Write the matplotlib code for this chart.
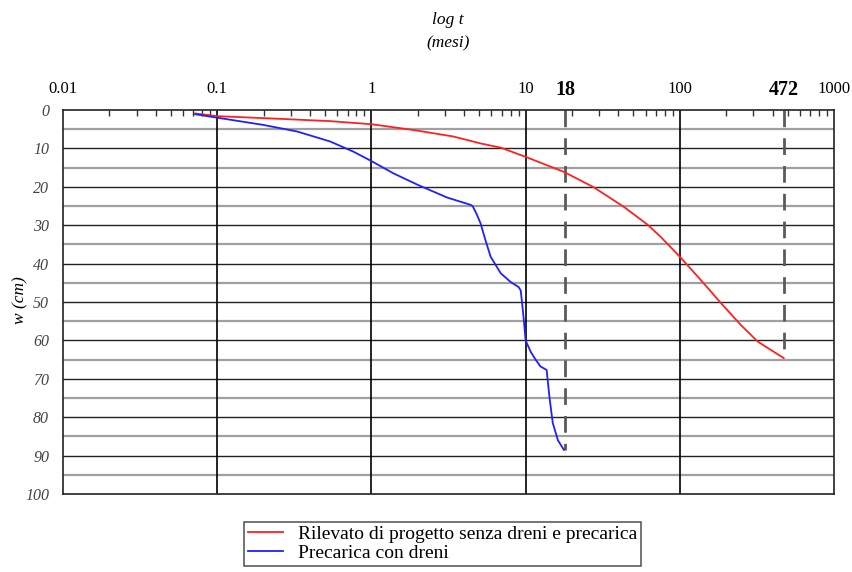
import numpy as np
import matplotlib.pyplot as plt
from matplotlib.ticker import FixedLocator, NullFormatter

plt.rcParams['font.family'] = ['Liberation Serif', 'DejaVu Serif']

# red curve: embankment without drains and preload
t_red = [0.072, 0.1, 0.256, 0.54, 1, 1.87, 3.4, 5.1, 6.9, 10, 17.7, 27.6, 43.3, 62, 75,
         100, 137, 185, 249, 320, 390, 472]
w_red = [0.9, 1.6, 2.3, 2.9, 3.7, 5.2, 6.9, 8.7, 9.8, 12.2, 16.1, 20.1, 25.2, 29.9, 33.0,
         38.2, 44.3, 50.3, 56.0, 60.3, 62.5, 64.6]

# blue curve: preload with drains
t_blue = [0.072, 0.1, 0.2, 0.33, 0.54, 0.76, 1.0, 1.39, 2.0, 3.1, 4.4, 4.53, 4.8, 5.1, 5.5,
          5.93, 6.89, 8.0, 9.0, 9.3, 9.7, 10, 10.8, 11.6, 12.5, 13.7, 13.9, 14.3, 15.0,
          16.2, 17.7]
w_blue = [1.1, 2.0, 3.9, 5.6, 8.2, 10.8, 13.3, 16.5, 19.5, 22.8, 24.7, 25.0, 27.0, 29.5, 34.0,
          38.2, 42.5, 44.8, 46.1, 47.0, 54.0, 60.0, 63.0, 65.0, 66.8, 67.7, 70.3, 75.0, 81.5,
          86.0, 88.5]

top_ticks = [0.01, 0.1, 1, 10, 100, 1000]
top_labels = ['0.01', '0.1', '1', '10', '100', '1000']
marks = [18, 472]
mark_ends = [88.5, 64.6]

fig = plt.figure(figsize=(8.53, 5.72), dpi=100)
ax = fig.add_axes([0.0739, 0.1364, 0.9038, 0.6713])

ax.set_xscale('log')
ax.set_xlim(0.01, 1000)
ax.set_ylim(100, 0)

# horizontal grid
for y in range(5, 100, 10):
    ax.axhline(y, color='#a0a0a0', lw=1.6, zorder=1)
for y in range(10, 100, 10):
    ax.axhline(y, color='#222222', lw=1.0, zorder=1)
# decade lines
for x in [0.1, 1, 10, 100]:
    ax.axvline(x, color='black', lw=1.2, zorder=1)
# dashed marks down to the end of each curve
for m, e in zip(marks, mark_ends):
    ax.plot([m, m], [0, e], color='#5a5a5a', lw=2, dashes=(6, 4), zorder=2)

ax.plot(t_red, w_red, color='#ff2020', lw=1.3, zorder=3,
        label='Rilevato di progetto senza dreni e precarica')
ax.plot(t_blue, w_blue, color='#2020ff', lw=1.3, zorder=3,
        label='Precarica con dreni')

ax.xaxis.tick_top()
ax.xaxis.set_major_locator(FixedLocator(top_ticks))
ax.set_xticklabels(top_labels, fontsize=12)
minor = [k * 10.0 ** e for e in range(-2, 3) for k in range(2, 10)]
ax.xaxis.set_minor_locator(FixedLocator(minor))
ax.xaxis.set_minor_formatter(NullFormatter())
ax.tick_params(axis='x', which='both', direction='in', top=True, bottom=False, pad=9)
ax.tick_params(axis='x', which='major', length=0)
ax.tick_params(axis='x', which='minor', length=4, width=1, color='#333333')

for m in marks:
    ax.text(m, 1.027, str(m), transform=ax.get_xaxis_transform(), ha='center', va='bottom',
            fontsize=14.5, fontweight='bold')

ax.set_yticks(range(0, 101, 10))
ax.set_yticklabels([str(v) for v in range(0, 101, 10)], fontstyle='italic', fontsize=11.5,
                   color='#444444')
ax.tick_params(axis='y', length=0, pad=10)

for s in ax.spines.values():
    s.set_color('#222222')
    s.set_linewidth(1.2)

fig.text(0.5255, 0.965, 'log t', ha='center', va='center', fontsize=12.5, fontstyle='italic')
fig.text(0.5255, 0.925, '(mesi)', ha='center', va='center', fontsize=12.5, fontstyle='italic')
fig.text(0.024, 0.475, 'w (cm)', ha='center', va='center', rotation=90, fontsize=12.5,
         fontstyle='italic')

leg = fig.legend(loc='center', bbox_to_anchor=(0.519, 0.0498), fontsize=14, frameon=True,
                 fancybox=False, edgecolor='#333333', handlelength=1.8, borderpad=0.2,
                 labelspacing=0.05, handletextpad=0.8, borderaxespad=0)
leg.get_frame().set_linewidth(1.2)

fig.savefig('out.png', dpi=100)
